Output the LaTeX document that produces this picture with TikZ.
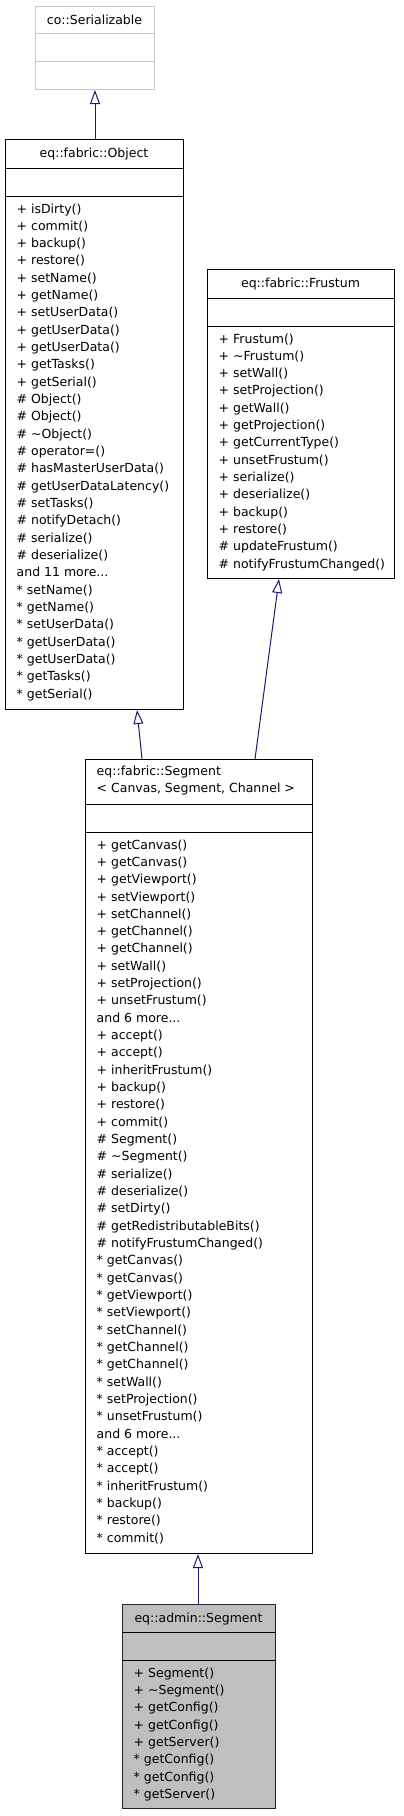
\documentclass[tikz,border=0pt]{standalone}
\usepackage{fontspec}
\setmainfont{DejaVu Sans}
\usetikzlibrary{arrows.meta,calc}
\definecolor{navy}{HTML}{191970}
\definecolor{lightgrey}{HTML}{BFBFBF}
\definecolor{bordergrey}{HTML}{C8C8C8}
\newcommand{\lsp}{17.33}
\newcommand{\tdots}{.{}.{}.}
\newcommand{\memlist}[4]{%
  \foreach \t [count=\i] in {#4}
    \node[mem, name=#1-\i] at (#2, {#3+(\i-1)*\lsp}) {\t};}
\begin{document}
\begin{tikzpicture}[x=1bp,y=-1bp,
  cls/.style={draw=black, line width=1bp, fill=white, inner sep=0, anchor=north west},
  mem/.style={anchor=base west, inner sep=0, font=\fontsize{12.5bp}{15bp}\selectfont},
  ttl/.style={anchor=base, inner sep=0, font=\fontsize{12.5bp}{15bp}\selectfont},
  sepline/.style={line width=1bp},
  inh/.style={draw=navy, line width=1bp, -{Triangle[open, length=14bp, width=10bp, fill=white]}}]
\useasboundingbox (0,0) rectangle (403,1816);

% co::Serializable
\node[cls, draw=bordergrey, minimum width=119bp, minimum height=83bp] (ser) at (35,6) {};
\draw[sepline, bordergrey] ([yshift=-27bp]ser.north west) -- ([yshift=-27bp]ser.north east);
\draw[sepline, bordergrey] ([yshift=-55bp]ser.north west) -- ([yshift=-55bp]ser.north east);
\node[ttl] (ser-t) at (94.5,24) {co::Serializable};

% eq::fabric::Object
\node[cls, minimum width=178bp, minimum height=570bp] (obj) at (5,139) {};
\draw[sepline] ([yshift=-29bp]obj.north west) -- ([yshift=-29bp]obj.north east);
\draw[sepline] ([yshift=-57bp]obj.north west) -- ([yshift=-57bp]obj.north east);
\node[ttl] (obj-t) at (94,157) {eq::fabric::Object};
\memlist{obj}{16.5}{213}{+ isDirty(), + commit(), + backup(), + restore(), + setName(), + getName(), + setUserData(), + getUserData(), + getUserData(), + getTasks(), + getSerial(), \# Object(), \# Object(), \# \textasciitilde{}Object(), \# operator=(), \# hasMasterUserData(), \# getUserDataLatency(), \# setTasks(), \# notifyDetach(), \# serialize(), \# deserialize(), and 11 more\tdots, * setName(), * getName(), * setUserData(), * getUserData(), * getUserData(), * getTasks(), * getSerial()}

% eq::fabric::Frustum
\node[cls, minimum width=187bp, minimum height=309bp] (fru) at (207,269) {};
\draw[sepline] ([yshift=-29bp]fru.north west) -- ([yshift=-29bp]fru.north east);
\draw[sepline] ([yshift=-57bp]fru.north west) -- ([yshift=-57bp]fru.north east);
\node[ttl] (fru-t) at (300.5,287) {eq::fabric::Frustum};
\memlist{fru}{218.5}{343}{+ Frustum(), + \textasciitilde{}Frustum(), + setWall(), + setProjection(), + getWall(), + getProjection(), + getCurrentType(), + unsetFrustum(), + serialize(), + deserialize(), + backup(), + restore(), \# updateFrustum(), \# notifyFrustumChanged()}

% eq::fabric::Segment
\node[cls, minimum width=227bp, minimum height=794bp] (seg) at (85,759) {};
\draw[sepline] ([yshift=-45bp]seg.north west) -- ([yshift=-45bp]seg.north east);
\draw[sepline] ([yshift=-73bp]seg.north west) -- ([yshift=-73bp]seg.north east);
\node[mem] (seg-t1) at (96.5,775) {eq::fabric::Segment};
\node[mem] (seg-t2) at (96.5,792.3) {< Canvas, Segment, Channel >};
\memlist{seg}{96.5}{849}{+ getCanvas(), + getCanvas(), + getViewport(), + setViewport(), + setChannel(), + getChannel(), + getChannel(), + setWall(), + setProjection(), + unsetFrustum(), and 6 more\tdots, + accept(), + accept(), + inheritFrustum(), + backup(), + restore(), + commit(), \# Segment(), \# \textasciitilde{}Segment(), \# serialize(), \# deserialize(), \# setDirty(), \# getRedistributableBits(), \# notifyFrustumChanged(), * getCanvas(), * getCanvas(), * getViewport(), * setViewport(), * setChannel(), * getChannel(), * getChannel(), * setWall(), * setProjection(), * unsetFrustum(), and 6 more\tdots, * accept(), * accept(), * inheritFrustum(), * backup(), * restore(), * commit()}

% eq::admin::Segment
\node[cls, draw=black!85, fill=lightgrey, minimum width=153bp, minimum height=204bp] (adm) at (122,1604) {};
\draw[sepline] ([yshift=-28bp]adm.north west) -- ([yshift=-28bp]adm.north east);
\draw[sepline] ([yshift=-56bp]adm.north west) -- ([yshift=-56bp]adm.north east);
\node[ttl] (adm-t) at (198.5,1622) {eq::admin::Segment};
\memlist{adm}{133.5}{1677}{+ Segment(), + \textasciitilde{}Segment(), + getConfig(), + getConfig(), + getServer(), * getConfig(), * getConfig(), * getServer()}

% inheritance arrows
\draw[inh] ($(obj.north west)+(90,0)$) -- ($(ser.south west)+(60,0)$);
\draw[inh] ($(seg.north west)+(57,0)$) -- ($(obj.south west)+(132,0)$);
\draw[inh] ($(seg.north west)+(170,0)$) -- ($(fru.south west)+(72,0)$);
\draw[inh] ($(adm.north west)+(76,0)$) -- ($(seg.south west)+(113,0)$);
\end{tikzpicture}
\end{document}
